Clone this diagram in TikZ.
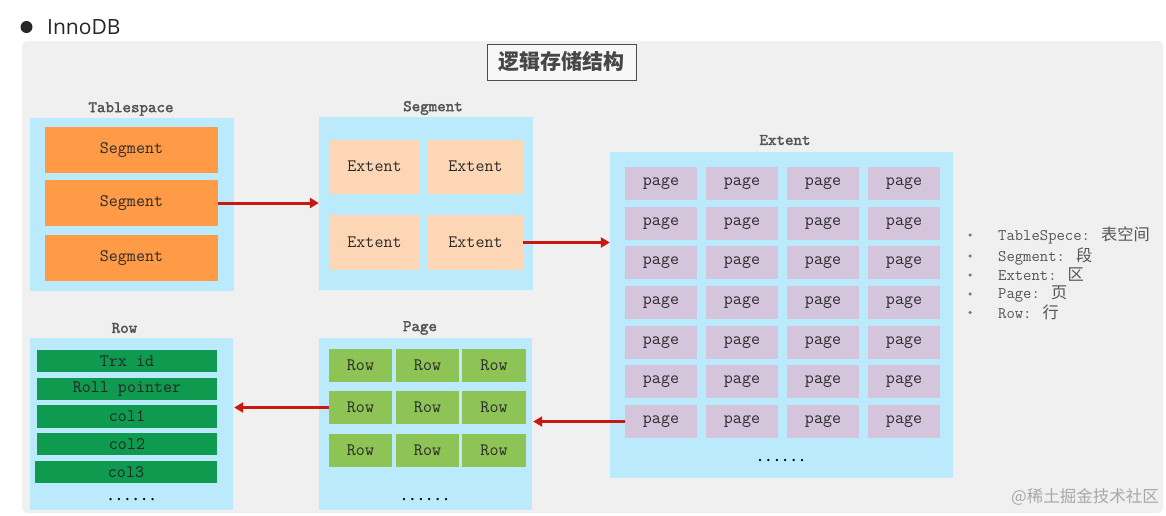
\documentclass[tikz,border=0pt]{standalone}
\usepackage{fontspec}
\newfontfamily\cjk{Noto Sans CJK SC}
\newfontfamily\uisans{Open Sans}
\newfontfamily\headfont[FakeBold=2.2]{lmmono10-regular.otf}
\usetikzlibrary{arrows.meta}
\definecolor{panel}{HTML}{F0F0F0}
\definecolor{boxblue}{HTML}{BAEAFB}
\definecolor{orng}{HTML}{FF9B46}
\definecolor{peach}{HTML}{FDD6B5}
\definecolor{lav}{HTML}{D4C4DC}
\definecolor{lgreen}{HTML}{8DC455}
\definecolor{dgreen}{HTML}{0E9A4F}
\definecolor{arrowred}{HTML}{C8180F}
\definecolor{lbl}{HTML}{555555}
\definecolor{txt}{HTML}{2A2A2A}
\definecolor{wm}{HTML}{A8A8A8}
\tikzset{
  container/.style={fill=boxblue, inner sep=0pt, draw=none},
  cell/.style={inner sep=0pt, font=\ttfamily\fontsize{17.5}{18}\selectfont, text=txt},
  heading/.style={inner sep=0pt, font=\headfont\fontsize{16.2}{17}\selectfont, text=lbl},
  legend/.style={inner sep=0pt, anchor=west, font=\ttfamily\fontsize{16.2}{17}\selectfont, text=lbl},
  legdot/.style={circle, fill=lbl!80, inner sep=0pt, minimum size=3.5pt},
  flow/.style={draw=arrowred, line width=3pt, -{Triangle[length=9pt,width=10pt,fill=arrowred]}},
  dots/.style={inner sep=0pt, font=\headfont\fontsize{16}{17}\selectfont, text=black},
}
\begin{document}
\begin{tikzpicture}[x=1pt,y=-1pt]
\useasboundingbox[fill=white] (0,0) rectangle (1166,515);
% header
\node[circle, fill=black!85, inner sep=0pt, minimum size=12pt] (bul) at (26.5,27) {};
\node[anchor=west, inner sep=0pt, font=\uisans\fontsize{21}{22}\selectfont, text=black!85] (innodb) at (47,27) {InnoDB};
% panel
\node[fill=panel, rounded corners=6pt, inner sep=0pt, minimum width=1141pt, minimum height=472pt] (panelbg) at (592.5,277) {};
% title
\node[draw=black!70, line width=0.9pt, fill=black!3, inner sep=0pt, minimum width=149pt, minimum height=36pt,
      font=\cjk\bfseries\fontsize{21}{22}\selectfont, text=black!72] (title) at (561.5,62) {逻辑存储结构};

% Tablespace
\node[heading] (tslbl) at (131,109) {Tablespace};
\node[container, minimum width=204pt, minimum height=173pt] (tsbox) at (132,204.5) {};
\foreach \i/\y in {1/150,2/203,3/258}
  \node[cell, fill=orng, minimum width=173pt, minimum height=46pt] (s\i) at (131.5,\y) {Segment};

% Segment
\node[heading] (sglbl) at (433,108) {Segment};
\node[container, minimum width=214pt, minimum height=173pt] (sgbox) at (426,203.5) {};
\node[cell, fill=peach, minimum width=89pt, minimum height=54pt] (e1) at (374.5,166.5) {Extent};
\node[cell, fill=peach, minimum width=95pt, minimum height=54pt] (e2) at (475.5,166.5) {Extent};
\node[cell, fill=peach, minimum width=89pt, minimum height=55pt] (e3) at (374.5,242.5) {Extent};
\node[cell, fill=peach, minimum width=95pt, minimum height=55pt] (e4) at (475.5,242.5) {Extent};

% Extent
\node[heading] (exlbl) at (785,140) {Extent};
\node[container, minimum width=343pt, minimum height=326pt] (extbox) at (781.5,315) {};
\foreach \c/\x in {1/661,2/742,3/823,4/904}
  \foreach \r in {1,...,7}
    \node[cell, fill=lav, minimum width=72pt, minimum height=33pt] (p\r\c) at (\x,{183.5+39.67*(\r-1)}) {page};
\node[dots] (exdots) at (781,460) {......};

% Page
\node[heading] (pglbl) at (420,328) {Page};
\node[container, minimum width=213pt, minimum height=172pt] (pgbox) at (425.5,424) {};
\foreach \c/\x/\w in {1/360.5/63,2/427.5/63,3/494/64}
  \foreach \r/\y in {1/365.5,2/407.5,3/450.5}
    \node[cell, fill=lgreen, minimum width=\w pt, minimum height=33pt] (r\r\c) at (\x,\y) {Row};
\node[dots] (pgdots) at (425,499) {......};

% Row
\node[heading] (rwlbl) at (124.5,328) {Row};
\node[container, minimum width=203pt, minimum height=172pt] (rowbox) at (131.5,424) {};
\node[cell, fill=dgreen, text=black!85, minimum width=180pt, minimum height=22pt] (f1) at (127,361) {Trx id};
\node[cell, fill=dgreen, text=black!85, minimum width=180pt, minimum height=22pt] (f2) at (127,389) {Roll pointer};
\node[cell, fill=dgreen, text=black!85, minimum width=180pt, minimum height=23pt] (f3) at (127,416.5) {col1};
\node[cell, fill=dgreen, text=black!85, minimum width=180pt, minimum height=22pt] (f4) at (127,444) {col2};
\node[cell, fill=dgreen, text=black!85, minimum width=182pt, minimum height=22pt] (f5) at (126,472) {col3};
\node[dots] (rwdots) at (131.5,499) {......};

% arrows
\draw[flow] (s2.east) -- (s2.east -| sgbox.west);
\draw[flow] (e4.east) -- (e4.east -| extbox.west);
\draw[flow] (p71.west) -- ([xshift=1pt]p71.west -| pgbox.east);
\draw[flow] (r21.west) -- ([xshift=1pt]r21.west -| rowbox.east);

% legend
\foreach \i/\y/\t in {1/235/{TableSpece: {\cjk 表空间}},2/256/{Segment: {\cjk 段}},3/275/{Extent: {\cjk 区}},4/294/{Page: {\cjk 页}},5/312.5/{Row: {\cjk 行}}}{
  \node[legdot] (ld\i) at (970,\y) {};
  \node[legend] (lt\i) at (998,\y) {\t};
}

% watermark
\node[inner sep=0pt, anchor=east, font=\cjk\fontsize{16.5}{17}\selectfont, text=wm] (wmark) at (1159,497) {@稀土掘金技术社区};
\end{tikzpicture}
\end{document}
